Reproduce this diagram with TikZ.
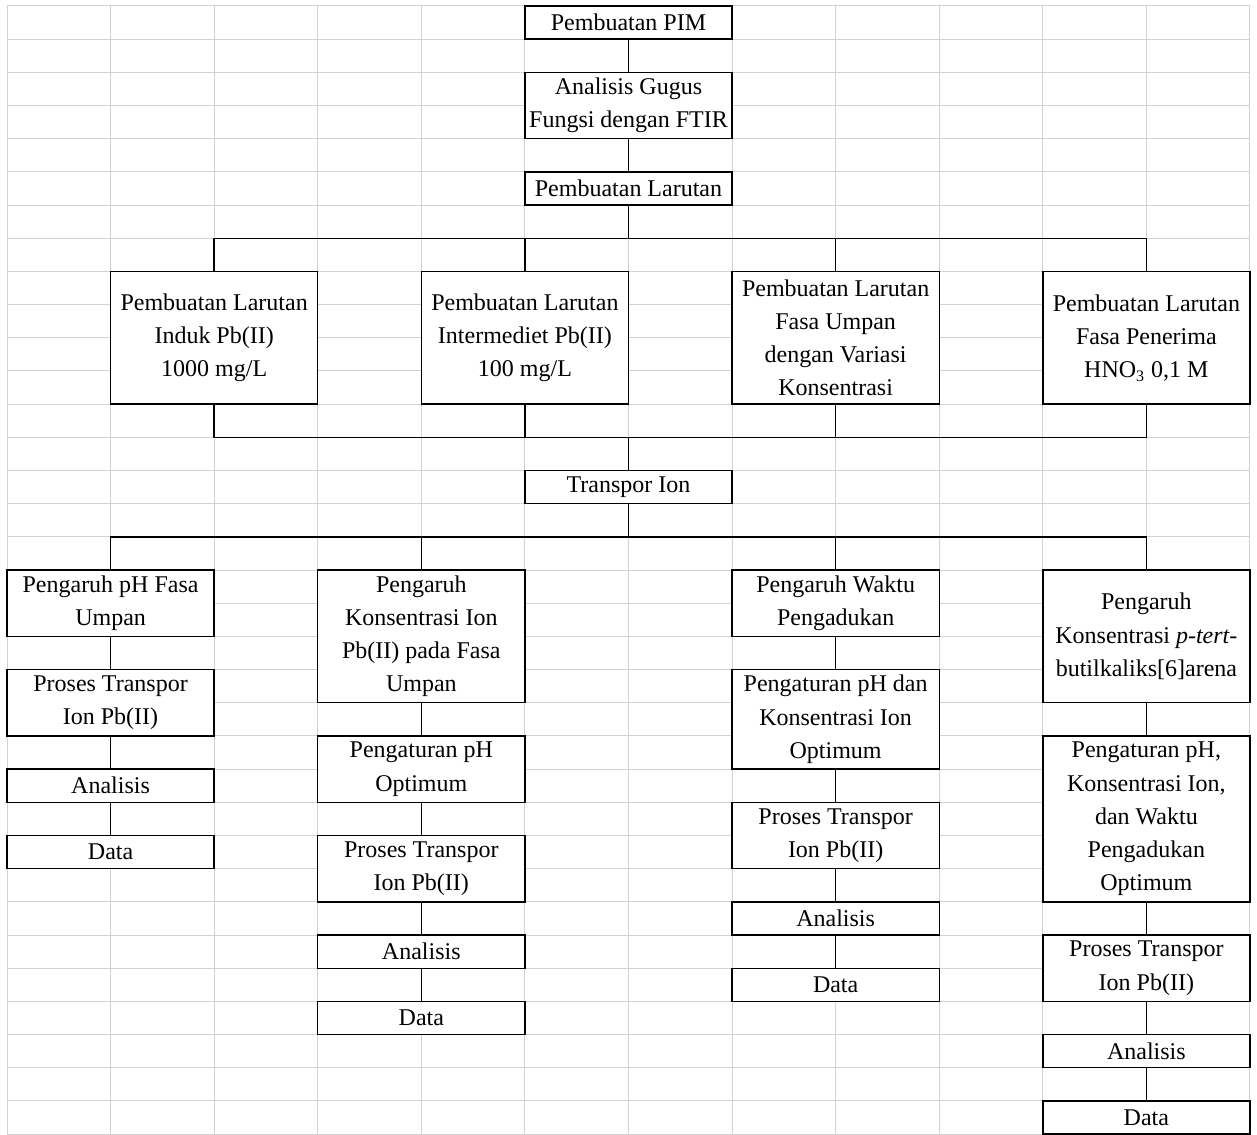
\documentclass[tikz,border=0pt]{standalone}
\usepackage{fontspec}
\setmainfont{Liberation Serif}
\usetikzlibrary{positioning}

\begin{document}
\begin{tikzpicture}[
    x=51.79pt, y=-16.59pt,
    font=\fontsize{12}{16.59}\selectfont,
    node distance=16.59pt,
    kotak/.style={draw, line width=0.7pt, fill=white, align=center, inner sep=0pt, outer sep=0pt,
      minimum width=103.58pt, minimum height=#1*16.59pt},
    kotak/.default=1,
    garis/.style={line width=0.7pt},
    kisi/.style={draw=gray!35, line width=0.5pt}
  ]
  \useasboundingbox (-0.0676,-0.181) rectangle (12.068,34);
  % kisi lembar kerja
  \foreach \c in {0,...,12} \draw[kisi] (\c,0) -- (\c,34);
  \foreach \r in {0,...,34} \draw[kisi] (0,\r) -- (12,\r);

  % bagian atas
  \node[kotak] (pim) at (6,0.5) {Pembuatan PIM};
  \node[kotak=2, below=of pim] (gugus) {Analisis Gugus\\Fungsi dengan FTIR};
  \node[kotak, below=of gugus] (larutan) {Pembuatan Larutan};

  \node[kotak=4] (induk) at (2,10) {Pembuatan Larutan\\Induk Pb(II)\\1000 mg/L};
  \node[kotak=4] (intermediet) at (5,10) {Pembuatan Larutan\\Intermediet Pb(II)\\100 mg/L};
  \node[kotak=4] (umpan) at (8,10) {Pembuatan Larutan\\Fasa Umpan\\dengan Variasi\\Konsentrasi};
  \node[kotak=4] (penerima) at (11,10) {Pembuatan Larutan\\Fasa Penerima\\HNO\textsubscript{3} 0,1 M};

  \node[kotak] (transpor) at (6,14.5) {Transpor Ion};

  % cabang 1
  \node[kotak=2] (ph) at (1,18) {Pengaruh pH Fasa\\Umpan};
  \node[kotak=2, below=of ph] (proses1) {Proses Transpor\\Ion Pb(II)};
  \node[kotak, below=of proses1] (analisis1) {Analisis};
  \node[kotak, below=of analisis1] (data1) {Data};

  % cabang 2
  \node[kotak=4] (kons) at (4,19) {Pengaruh\\Konsentrasi Ion\\Pb(II) pada Fasa\\Umpan};
  \node[kotak=2, below=of kons] (atur2) {Pengaturan pH\\Optimum};
  \node[kotak=2, below=of atur2] (proses2) {Proses Transpor\\Ion Pb(II)};
  \node[kotak, below=of proses2] (analisis2) {Analisis};
  \node[kotak, below=of analisis2] (data2) {Data};

  % cabang 3
  \node[kotak=2] (waktu) at (8,18) {Pengaruh Waktu\\Pengadukan};
  \node[kotak=3, below=of waktu] (atur3) {Pengaturan pH dan\\Konsentrasi Ion\\Optimum};
  \node[kotak=2, below=of atur3] (proses3) {Proses Transpor\\Ion Pb(II)};
  \node[kotak, below=of proses3] (analisis3) {Analisis};
  \node[kotak, below=of analisis3] (data3) {Data};

  % cabang 4
  \node[kotak=4] (kaliks) at (11,19) {Pengaruh\\Konsentrasi \textit{p-tert-}\\butilkaliks[6]arena};
  \node[kotak=5, below=of kaliks] (atur4) {Pengaturan pH,\\Konsentrasi Ion,\\dan Waktu\\Pengadukan\\Optimum};
  \node[kotak=2, below=of atur4] (proses4) {Proses Transpor\\Ion Pb(II)};
  \node[kotak, below=of proses4] (analisis4) {Analisis};
  \node[kotak, below=of analisis4] (data4) {Data};

  % titik percabangan
  \coordinate (atas) at (6,7);
  \coordinate (bawah) at (6,13);
  \coordinate (cabang) at (6,16);

  \draw[garis] (pim) -- (gugus);
  \draw[garis] (gugus) -- (larutan);
  \draw[garis] (larutan) -- (atas);
  \draw[garis] (induk.north) |- (atas) -| (penerima.north);
  \draw[garis] (intermediet) -- (intermediet |- atas);
  \draw[garis] (umpan) -- (umpan |- atas);
  \draw[garis] (induk.south) |- (bawah) -| (penerima.south);
  \draw[garis] (intermediet) -- (intermediet |- bawah);
  \draw[garis] (umpan) -- (umpan |- bawah);
  \draw[garis] (bawah) -- (transpor);
  \draw[garis] (transpor) -- (cabang);
  \draw[garis] (ph.north) |- (cabang) -| (kaliks.north);
  \draw[garis] (kons) -- (kons |- cabang);
  \draw[garis] (waktu) -- (waktu |- cabang);

  \foreach \a/\b in {ph/proses1, proses1/analisis1, analisis1/data1,
      kons/atur2, atur2/proses2, proses2/analisis2, analisis2/data2,
      waktu/atur3, atur3/proses3, proses3/analisis3, analisis3/data3,
      kaliks/atur4, atur4/proses4, proses4/analisis4, analisis4/data4}
    \draw[garis] (\a) -- (\b);
\end{tikzpicture}
\end{document}
